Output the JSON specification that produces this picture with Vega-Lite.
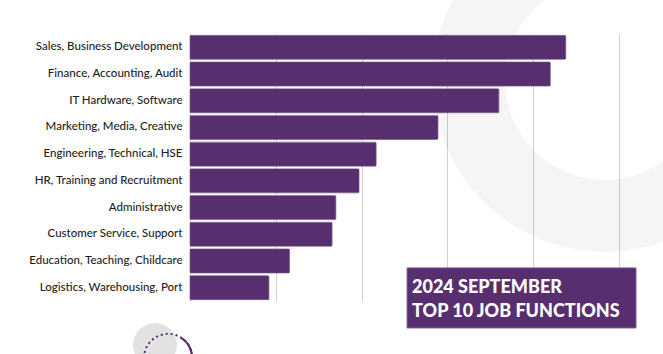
{
  "$schema": "https://vega.github.io/schema/vega-lite/v6.json",
  "width": 429,
  "height": 267,
  "autosize": {"type": "none"},
  "padding": {"left": 190, "top": 34, "right": 44, "bottom": 53},
  "background": "white",
  "config": {"view": {"stroke": null}},
  "datasets": {
    "jobs": [
      {"job": "Sales, Business Development", "count": 2190},
      {"job": "Finance, Accounting, Audit", "count": 2100},
      {"job": "IT Hardware, Software", "count": 1800},
      {"job": "Marketing, Media, Creative", "count": 1445},
      {"job": "Engineering, Technical, HSE", "count": 1085},
      {"job": "HR, Training and Recruitment", "count": 985},
      {"job": "Administrative", "count": 850},
      {"job": "Customer Service, Support", "count": 828},
      {"job": "Education, Teaching, Childcare", "count": 580},
      {"job": "Logistics, Warehousing, Port", "count": 460}
    ],
    "one": [{}]
  },
  "layer": [
    {
      "data": {"name": "one"},
      "mark": {"type": "point", "shape": "circle", "filled": false, "size": 73984, "strokeWidth": 72, "stroke": "black", "strokeOpacity": 0.05},
      "encoding": {
        "x": {"datum": 2418, "type": "quantitative", "scale": {"domain": [0, 2500], "nice": false}, "axis": null},
        "y": {"datum": 1.72, "type": "quantitative", "scale": {"domain": [0, 10], "reverse": true, "nice": false}, "axis": null}
      }
    },
    {
      "data": {"name": "jobs"},
      "mark": {"type": "bar", "color": "#582f6e", "cornerRadius": 1, "stroke": "#6b4682", "strokeWidth": 0.6},
      "encoding": {
        "y": {"field": "job", "type": "nominal", "sort": null,
          "scale": {"paddingInner": 0.1, "paddingOuter": 0.05},
          "axis": {"title": null, "domain": false, "ticks": false, "labelPadding": 8, "labelFont": "Lato", "labelFontSize": 11.5, "labelColor": "#1e1e1e", "labelFontWeight": 500}},
        "x": {"field": "count", "type": "quantitative", "scale": {"domain": [0, 2500], "nice": false},
          "axis": {"values": [0, 500, 1000, 1500, 2000, 2500], "grid": true, "gridColor": "#d0d0d0", "gridWidth": 1, "labels": false, "ticks": false, "domain": false, "title": null}}
      }
    },
    {
      "data": {"name": "one"},
      "mark": {"type": "rect", "fill": "#582f6e", "stroke": "#7d5a95", "strokeWidth": 1},
      "encoding": {
        "x": {"datum": 1265, "type": "quantitative", "scale": {"domain": [0, 2500], "nice": false}, "axis": null},
        "x2": {"datum": 2599},
        "y": {"datum": 8.76, "type": "quantitative", "scale": {"domain": [0, 10], "reverse": true, "nice": false}, "axis": null},
        "y2": {"datum": 11.01}
      }
    },
    {
      "data": {"name": "one"},
      "mark": {"type": "text", "align": "left", "baseline": "alphabetic", "font": "Lato", "fontWeight": 900, "fontSize": 18, "color": "white", "lineHeight": 24},
      "encoding": {
        "x": {"datum": 1294, "type": "quantitative", "scale": {"domain": [0, 2500], "nice": false}, "axis": null},
        "y": {"datum": 9.7, "type": "quantitative", "scale": {"domain": [0, 10], "reverse": true, "nice": false}, "axis": null},
        "text": {"value": ["2024 SEPTEMBER", "TOP 10 JOB FUNCTIONS"]}
      }
    },
    {
      "data": {"name": "one"},
      "mark": {"type": "point", "shape": "circle", "filled": true, "size": 1936, "fill": "#e2e2e2", "opacity": 1},
      "encoding": {
        "x": {"datum": -204, "type": "quantitative", "scale": {"domain": [0, 2500], "nice": false}, "axis": null},
        "y": {"datum": 11.65, "type": "quantitative", "scale": {"domain": [0, 10], "reverse": true, "nice": false}, "axis": null}
      }
    },
    {
      "data": {"name": "one"},
      "mark": {"type": "point", "shape": "circle", "filled": false, "size": 2304, "stroke": "#582f6e", "strokeWidth": 2, "strokeDash": [2, 3], "opacity": 1},
      "encoding": {
        "x": {"datum": -128, "type": "quantitative", "scale": {"domain": [0, 2500], "nice": false}, "axis": null},
        "y": {"datum": 12.13, "type": "quantitative", "scale": {"domain": [0, 10], "reverse": true, "nice": false}, "axis": null}
      }
    },
    {
      "data": {"name": "one"},
      "mark": {"type": "point", "shape": "circle", "filled": false, "size": 2304, "stroke": "#582f6e", "strokeWidth": 2.2, "strokeDash": [38, 88, 26, 0.1], "opacity": 1},
      "encoding": {
        "x": {"datum": -128, "type": "quantitative", "scale": {"domain": [0, 2500], "nice": false}, "axis": null},
        "y": {"datum": 12.13, "type": "quantitative", "scale": {"domain": [0, 10], "reverse": true, "nice": false}, "axis": null}
      }
    }
  ],
  "resolve": {"scale": {"x": "independent", "y": "independent"}, "axis": {"x": "independent", "y": "independent"}}
}
